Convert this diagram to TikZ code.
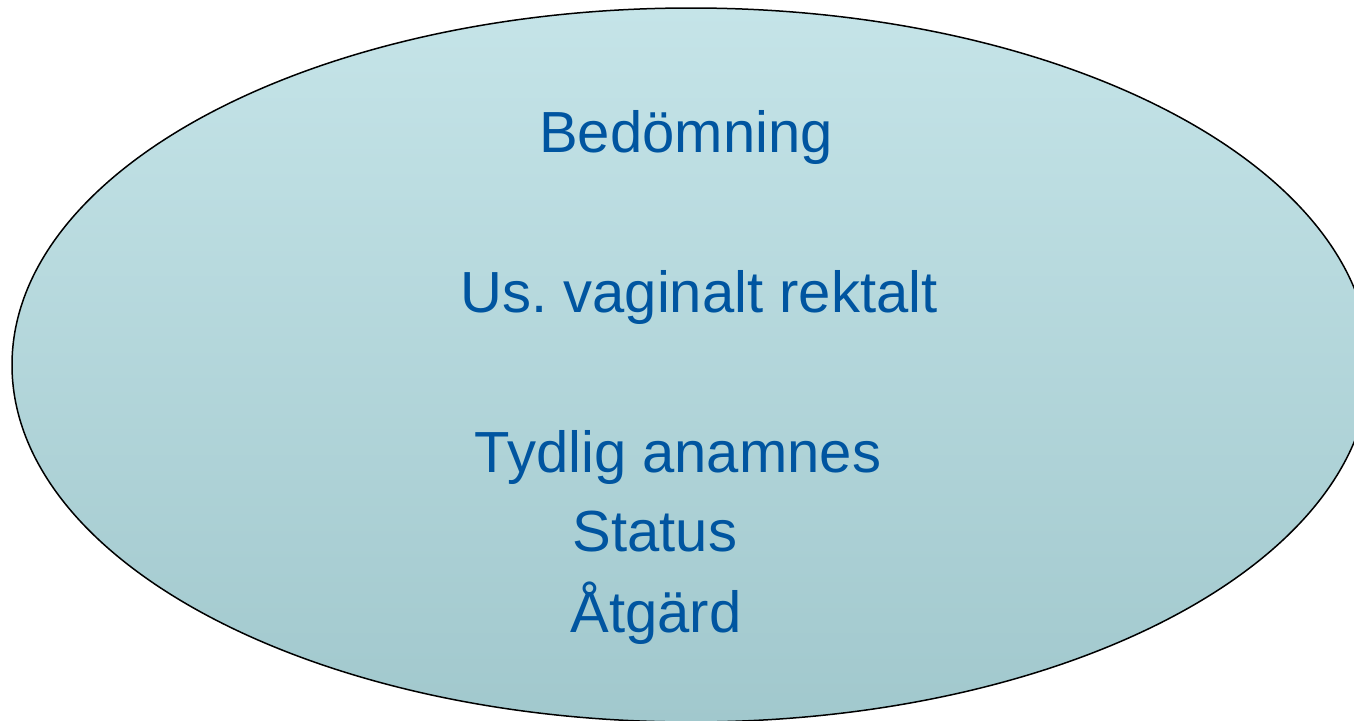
\documentclass[tikz,border=0pt]{standalone}
\usepackage{fontspec}
\setmainfont{Liberation Sans}
\frenchspacing
\definecolor{topc}{HTML}{C5E4E8}
\definecolor{botc}{HTML}{A1C8CD}
\definecolor{txt}{HTML}{0055A0}
\begin{document}
\begin{tikzpicture}[x=1pt,y=-1pt,
  lbl/.style={anchor=base,text=txt,inner sep=0pt,font=\fontsize{58}{70}\selectfont}]
\useasboundingbox (0,0) rectangle (1354,720);
\clip (0,0) rectangle (1354,720);
\shade[top color=topc,bottom color=botc,draw=black,line width=1.5pt]
  (691,365) ellipse [x radius=679, y radius=357];
\node[lbl] (b) at (686,152) {Bedömning};
\node[lbl] (u) at (699,312) {Us.\ vaginalt rektalt};
\node[lbl] (t) at (678,472) {Tydlig anamnes};
\node[lbl] (s) at (655,551) {Status};
\node[lbl] (a) at (656,632) {Åtgärd};
\end{tikzpicture}
\end{document}
